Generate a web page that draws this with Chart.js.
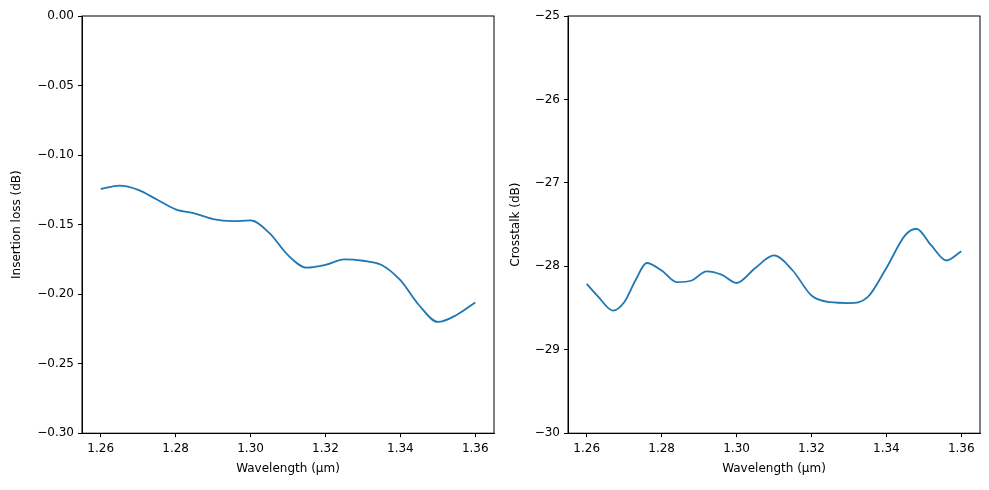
<!DOCTYPE html>
<html><head><meta charset="utf-8">
<script src="https://cdn.jsdelivr.net/npm/chart.js@4/dist/chart.umd.min.js"></script>
<style>
body{margin:0;background:#fff;width:989px;height:490px;position:relative;overflow:hidden}
.box{position:absolute;top:0;height:490px}
</style></head><body>
<div class="box" style="left:0;width:500px"><canvas id="c1"></canvas></div>
<div class="box" style="left:486px;width:500px"><canvas id="c2"></canvas></div>
<script>
const lossX = [1.26,1.265,1.27,1.275,1.28,1.285,1.29,1.295,1.30,1.305,1.31,1.315,1.32,1.325,1.33,1.335,1.34,1.345,1.35,1.355,1.36]
const lossY = [-0.1245,-0.122,-0.125,-0.132,-0.139,-0.142,-0.146,-0.1475,-0.147,-0.156,-0.172,-0.181,-0.179,-0.175,-0.176,-0.179,-0.190,-0.208,-0.220,-0.215,-0.206]
const xtX = [1.26,1.263,1.267,1.27,1.273,1.276,1.28,1.284,1.288,1.292,1.296,1.30,1.305,1.31,1.315,1.32,1.325,1.33,1.335,1.34,1.345,1.348,1.352,1.356,1.36]
const xtY = [-28.21,-28.36,-28.53,-28.43,-28.17,-27.96,-28.05,-28.19,-28.17,-28.06,-28.10,-28.20,-28.02,-27.87,-28.05,-28.35,-28.43,-28.44,-28.37,-28.02,-27.63,-27.55,-27.75,-27.93,-27.82]
const xTicks = [1.26,1.28,1.30,1.32,1.34,1.36]

Chart.defaults.font.family = 'DejaVu Sans'
Chart.defaults.font.size = 12
Chart.defaults.color = '#000'

const frame = {
  id: 'frame',
  afterDraw(chart) {
    const a = chart.chartArea, ctx = chart.ctx
    ctx.save(); ctx.strokeStyle = '#000'; ctx.lineWidth = 1
    ctx.strokeRect(a.left, a.top, a.right - a.left, a.bottom - a.top)
    ctx.restore()
  }
}

const makeChart = (id, xs, ys, yMin, yMax, yStep, yDec, yLabel, padLeft, yWidth) => {
  new Chart(document.querySelector(id), {
    type: 'line',
    data: { datasets: [{ data: xs.map((x, i) => ({ x: x, y: ys[i] })), borderColor: '#1f77b4', borderWidth: 1.8, pointRadius: 0, tension: 0.4, cubicInterpolationMode: 'monotone' }] },
    options: {
      responsive: false, animation: false, devicePixelRatio: 1,
      layout: { padding: { top: 16, right: 6, bottom: 10, left: padLeft } },
      plugins: { legend: { display: false }, tooltip: { enabled: false } },
      scales: {
        x: {
          type: 'linear', min: 1.255, max: 1.365,
          afterBuildTicks: s => { s.ticks = xTicks.map(v => ({ value: v })) },
          ticks: { callback: v => v.toFixed(2), maxRotation: 0, padding: 4 },
          grid: { drawOnChartArea: false, tickLength: 4, color: '#000' },
          border: { color: '#000' },
          title: { display: true, text: 'Wavelength (μm)', padding: { top: 2 } }
        },
        y: {
          min: yMin, max: yMax,
          ticks: { stepSize: yStep, callback: v => v.toFixed(yDec).replace('-', '\u2212'), padding: 4 },
          grid: { drawOnChartArea: false, tickLength: 4, color: '#000' },
          border: { color: '#000' },
          title: { display: true, text: yLabel, padding: { bottom: 4 } },
          afterFit: s => { s.width = yWidth }
        }
      }
    },
    plugins: [frame]
  })
}

const setSize = id => { const c = document.querySelector(id); c.width = 500; c.height = 490 }
setSize('#c1'); setSize('#c2')
makeChart('#c1', lossX, lossY, -0.30, 0, 0.05, 2, 'Insertion loss (dB)', 6, 76)
makeChart('#c2', xtX, xtY, -30, -25, 1, 0, 'Crosstalk (dB)', 19, 63)
</script>
</body></html>
